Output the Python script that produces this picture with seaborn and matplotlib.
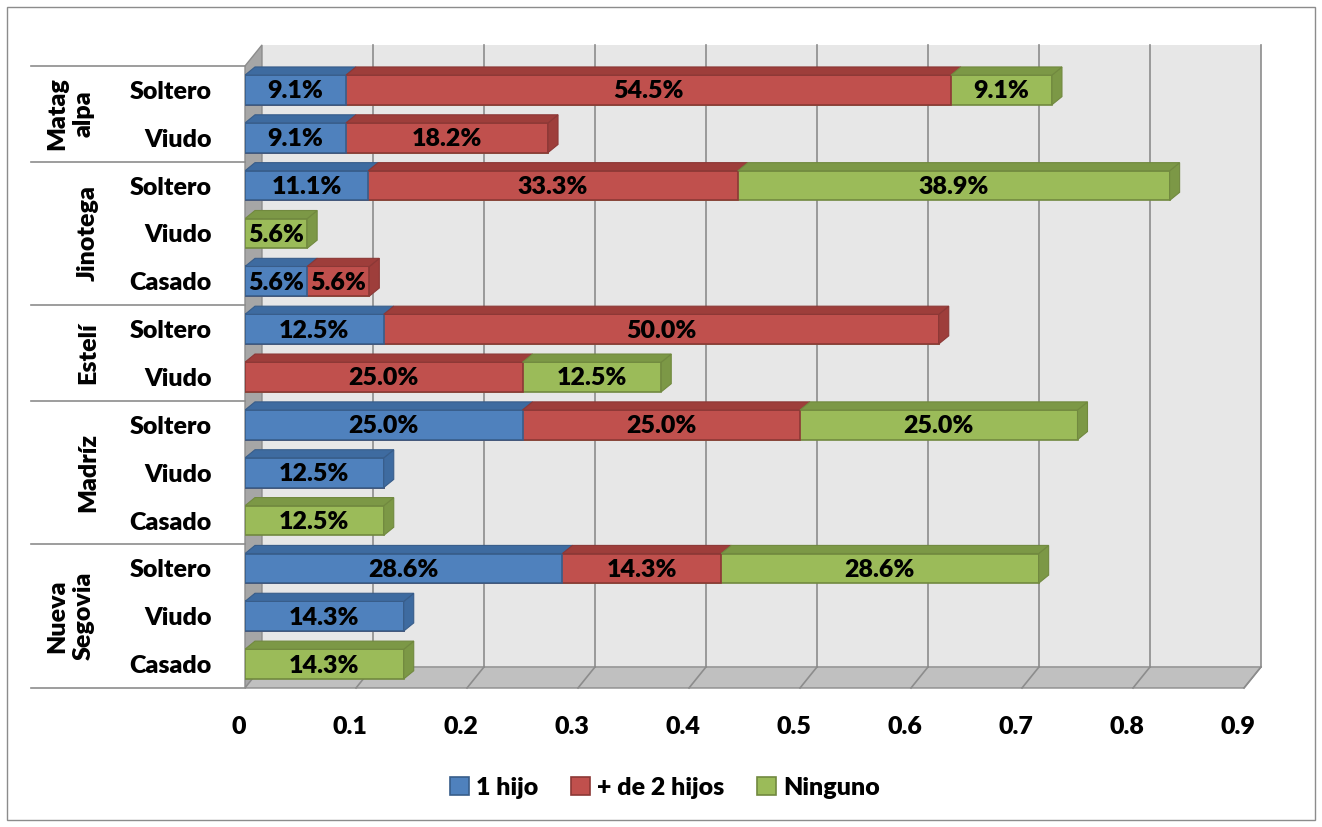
import numpy as np
import pandas as pd
import matplotlib.pyplot as plt
import seaborn as sns
from matplotlib.patches import Polygon, Rectangle, Patch
from matplotlib.lines import Line2D
from matplotlib.transforms import blended_transform_factory, ScaledTranslation

plt.rcParams['font.family'] = ['Lato', 'DejaVu Sans']
plt.rcParams['font.weight'] = 'heavy'
FS = 18
PESO = 'heavy'

# datos
departamentos = ['Matag\nalpa', 'Jinotega', 'Estelí', 'Madríz', 'Nueva\nSegovia']
estados = [['Soltero', 'Viudo'],
           ['Soltero', 'Viudo', 'Casado'],
           ['Soltero', 'Viudo'],
           ['Soltero', 'Viudo', 'Casado'],
           ['Soltero', 'Viudo', 'Casado']]
series = ['1 hijo', '+ de 2 hijos', 'Ninguno']
un_hijo = [0.091, 0.091, 0.111, 0, 0.056, 0.125, 0, 0.25, 0.125, 0, 0.286, 0.143, 0]
dos_hijos = [0.545, 0.182, 0.333, 0, 0.056, 0.5, 0.25, 0.25, 0, 0, 0.143, 0, 0]
ninguno = [0.091, 0, 0.389, 0.056, 0, 0, 0.125, 0.25, 0, 0.125, 0.286, 0, 0.143]

colores = ['#4F81BD', '#C0504D', '#9BBB59']
bordes = ['#385D8A', '#8C3836', '#71893F']
caras = ['#3E6BA0', '#9E3E3B', '#7C9846']

filas = [e for grupo in estados for e in grupo]
n = len(filas)
df = pd.DataFrame({'fila': [str(i) for i in range(n)],
                   'a': un_hijo, 'b': dos_hijos, 'c': ninguno})
df['c1'] = df['a']
df['c2'] = df['a'] + df['b']
df['c3'] = df['c2'] + df['c']

fig = plt.figure(figsize=(13.22, 8.27), dpi=100)
ax = fig.add_axes([245 / 1322, 1 - 688 / 827, 999 / 1322, 622 / 827])
ax.set_facecolor('none')

# barras apiladas: totales acumulados superpuestos
alto = 0.62
for col, c, e in [('c3', colores[2], bordes[2]),
                  ('c2', colores[1], bordes[1]),
                  ('c1', colores[0], bordes[0])]:
    sns.barplot(data=df, y='fila', x=col, order=df['fila'], orient='h',
                color=c, saturation=1, edgecolor=e, linewidth=1.2,
                width=alto, errorbar=None, ax=ax, zorder=3)
for p in ax.patches:
    if p.get_width() <= 0:
        p.set_visible(False)

ax.set_xlim(0, 0.9)
ax.set_ylim(n - 0.5, -0.5)

# efecto 3D de las barras
bdx, bdy = 0.009, 0.17
for i in range(n):
    vals = [df['a'][i], df['b'][i], df['c'][i]]
    izq = 0
    ultimo = None
    y0 = i - alto / 2
    for k, v in enumerate(vals):
        if v <= 0:
            continue
        der = izq + v
        ax.add_patch(Polygon([(izq, y0), (der, y0), (der + bdx, y0 - bdy), (izq + bdx, y0 - bdy)],
                             closed=True, facecolor=caras[k], edgecolor=bordes[k],
                             linewidth=0.8, zorder=3.5))
        ax.text((izq + der) / 2, i + 0.03, f'{v * 100:.1f}%', ha='center', va='center',
                fontsize=FS, fontweight=PESO, color='black', zorder=5)
        ultimo = (der, k)
        izq = der
    if ultimo:
        der, k = ultimo
        ax.add_patch(Polygon([(der, y0), (der + bdx, y0 - bdy), (der + bdx, i + alto / 2 - bdy),
                              (der, i + alto / 2)],
                             closed=True, facecolor=caras[k], edgecolor=bordes[k],
                             linewidth=0.8, zorder=3.4))

# paredes
wdx, wdy = 0.0153, 0.44
arriba, abajo = -0.5, n - 0.5
ax.add_patch(Polygon([(wdx, arriba - wdy), (0.9 + wdx, arriba - wdy),
                      (0.9 + wdx, abajo - wdy), (wdx, abajo - wdy)],
                     closed=True, facecolor='#E7E7E7', edgecolor='none', zorder=0, clip_on=False))
ax.add_patch(Polygon([(0, arriba), (wdx, arriba - wdy), (wdx, abajo - wdy), (0, abajo)],
                     closed=True, facecolor='#A6A6A6', edgecolor='#8C8C8C', linewidth=1,
                     zorder=0.5, clip_on=False))
ax.add_patch(Polygon([(0, abajo), (wdx, abajo - wdy), (0.9 + wdx, abajo - wdy), (0.9, abajo)],
                     closed=True, facecolor='#C0C0C0', edgecolor='#8C8C8C', linewidth=1,
                     zorder=0.5, clip_on=False))
for t in np.arange(0.1, 0.91, 0.1):
    ax.plot([t + wdx, t + wdx], [arriba - wdy, abajo - wdy], color='#8C8C8C', lw=1.2,
            zorder=1, clip_on=False)
    ax.plot([t, t + wdx], [abajo, abajo - wdy], color='#8C8C8C', lw=1.2, zorder=1, clip_on=False)

for s in ax.spines.values():
    s.set_visible(False)
ax.set_xlabel('')
ax.set_ylabel('')
ax.set_xticks(np.arange(0, 0.91, 0.1))
ax.set_xticklabels(['0'] + [f'{t:.1f}' for t in np.arange(0.1, 0.91, 0.1)])
ax.set_yticks(range(n))
ax.set_yticklabels(filas)
ax.tick_params(axis='x', length=0, pad=20, labelsize=FS)
ax.tick_params(axis='y', length=0, pad=24, labelsize=FS)
desplazo = ScaledTranslation(-6 / 100, 0, fig.dpi_scale_trans)
for lab in ax.get_xticklabels():
    lab.set_fontweight(PESO)
    lab.set_transform(lab.get_transform() + desplazo)
for lab in ax.get_yticklabels():
    lab.set_fontweight(PESO)

# etiquetas de departamento y separadores
tr = blended_transform_factory(fig.transFigure, ax.transData)
limites = np.concatenate([[0], np.cumsum([len(g) for g in estados])]) - 0.5
for y in limites:
    fig.add_artist(Line2D([31 / 1322, 245 / 1322], [y, y], transform=tr, color='#8C8C8C', lw=1.2))
for d, a, b in zip(departamentos, limites[:-1], limites[1:]):
    x = 70 / 1322 if '\n' in d else 88 / 1322
    ax.text(x, (a + b) / 2, d, transform=tr, rotation=90, ha='center', va='center',
            fontsize=FS, fontweight=PESO, linespacing=1.25, multialignment='center')

fig.legend(handles=[Patch(facecolor=c, edgecolor=e, linewidth=1.2) for c, e in zip(colores, bordes)],
           labels=series, loc='center', bbox_to_anchor=(0.503, 1 - 788 / 827), ncol=3,
           frameon=False, handlelength=0.75, handleheight=0.75,
           handletextpad=0.3, columnspacing=1.3, prop={'weight': PESO, 'size': FS})

fig.add_artist(Rectangle((7 / 1322, 7 / 827), 1308 / 1322, 813 / 827, transform=fig.transFigure,
                         fill=False, edgecolor='#8C8C8C', linewidth=1))

fig.savefig('out.png', dpi=100, facecolor='white')
